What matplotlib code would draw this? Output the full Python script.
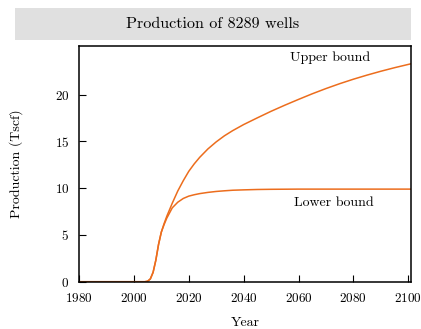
import matplotlib
matplotlib.use("Agg")
import matplotlib.pyplot as plt
from matplotlib.patches import Rectangle

# values (Tscf)
years = [1980, 2004, 2005, 2006, 2007, 2008, 2009, 2010, 2011, 2012, 2014, 2016,
         2018, 2020, 2022, 2024, 2027, 2030, 2033, 2036, 2040, 2045, 2050, 2055,
         2060, 2065, 2070, 2075, 2080, 2085, 2090, 2095, 2100, 2101]
upper = [0, 0, 0.05, 0.3, 1.0, 2.3, 4.0, 5.3, 6.2, 7.0, 8.4, 9.7,
         10.8, 11.8, 12.6, 13.3, 14.2, 14.95, 15.6, 16.15, 16.8, 17.52, 18.22, 18.87,
         19.49, 20.09, 20.65, 21.17, 21.65, 22.09, 22.5, 22.88, 23.23, 23.3]
lower = [0, 0, 0.05, 0.3, 1.0, 2.3, 4.0, 5.3, 6.1, 6.8, 7.9, 8.5,
         8.9, 9.15, 9.3, 9.42, 9.55, 9.65, 9.72, 9.78, 9.82, 9.86, 9.88, 9.89,
         9.9, 9.9, 9.9, 9.9, 9.9, 9.9, 9.9, 9.9, 9.9, 9.9]

title = "Production of 8289 wells"
xticks = [1980, 2000, 2020, 2040, 2060, 2080, 2100]
yticks = [0, 5, 10, 15, 20]

plt.rcParams['font.family'] = ['cmr10', 'DejaVu Serif']
plt.rcParams['axes.formatter.use_mathtext'] = True

col = '#ec6d1d'
fs = 10

fig = plt.figure(figsize=(4.21, 3.29), dpi=100)
ax = fig.add_axes([79/421, 1-282/329, 332/421, 236/329])

ax.plot(years, upper, color=col, lw=1.1)
ax.plot(years, lower, color=col, lw=1.1)

ax.set_xlim(1980, 2101)
ax.set_ylim(-0.03, 25.2)
ax.set_xticks(xticks)
ax.set_yticks(yticks)
ax.tick_params(direction='in', length=5, width=0.8, labelsize=9.5, pad=7,
               top=False, right=False)
for s in ax.spines.values():
    s.set_linewidth(1.1)

ax.text(2071.5, 23.9, "Upper bound", ha='center', va='center', fontsize=fs)
ax.text(2073, 8.4, "Lower bound", ha='center', va='center', fontsize=fs)

ax.set_xlabel("Year", fontsize=fs, labelpad=9)
ax.set_ylabel("Production (Tscf)", fontsize=fs, labelpad=23)

# grey title band
fig.patches.append(Rectangle((15/421, 1-40/329), 396/421, 32/329,
                             transform=fig.transFigure, facecolor='#e0e0e0',
                             edgecolor='none', zorder=0))
fig.text(213/421, 1-24/329, title, ha='center', va='center', fontsize=11.6)

fig.savefig("out.png", dpi=100)
